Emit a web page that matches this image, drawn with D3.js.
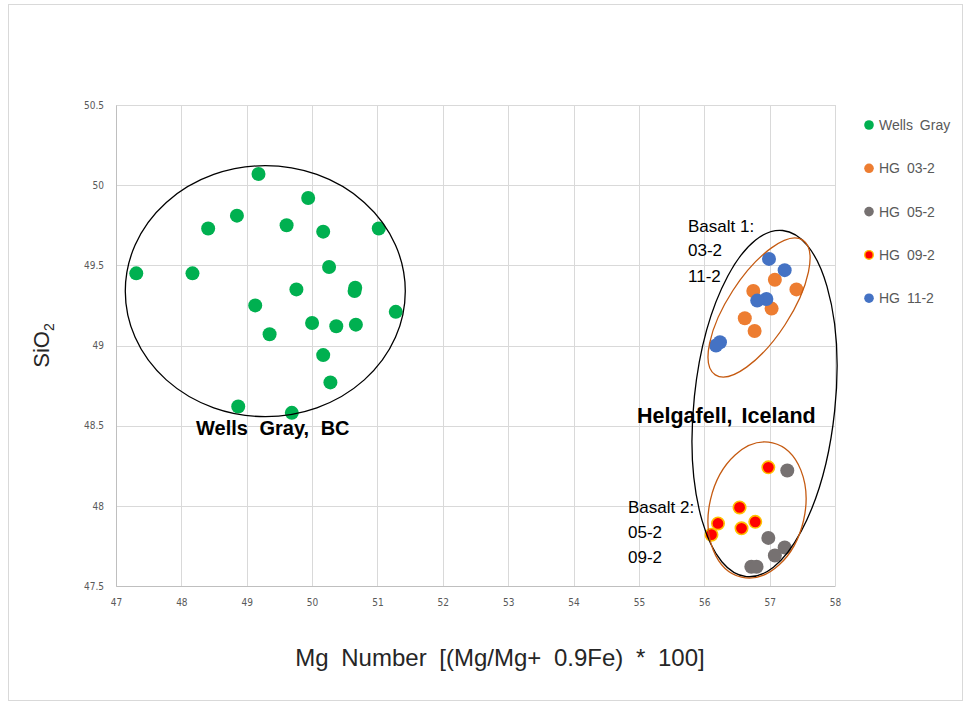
<!DOCTYPE html>
<html>
<head>
<meta charset="utf-8">
<script src="https://cdn.jsdelivr.net/npm/d3@7"></script>
<style>
  html, body { margin: 0; padding: 0; background: #fff; }
  svg { display: block; }
</style>
</head>
<body>
<svg id="chart" width="964" height="703"></svg>
<script>
// Axis ticks
const xTickValues = [47, 48, 49, 50, 51, 52, 53, 54, 55, 56, 57, 58];
const yTickValues = [47.5, 48, 48.5, 49, 49.5, 50, 50.5];

// Series: [Mg number, SiO2]
const wellsGray = [
  [49.18, 50.07], [49.94, 49.92], [48.85, 49.81], [48.41, 49.73], [49.61, 49.75],
  [50.17, 49.71], [51.02, 49.73], [47.31, 49.45], [48.17, 49.45], [50.26, 49.49],
  [49.76, 49.35], [50.66, 49.36], [50.65, 49.34], [49.13, 49.25], [51.28, 49.21],
  [50.00, 49.14], [50.37, 49.12], [50.67, 49.13], [49.35, 49.07], [50.17, 48.94],
  [50.28, 48.77], [48.87, 48.62], [49.69, 48.58]
];
const hg03 = [
  [57.08, 49.41], [56.75, 49.34], [57.41, 49.35], [57.03, 49.23], [56.62, 49.17], [56.77, 49.09]
];
const hg05 = [
  [57.27, 48.22], [56.98, 47.80], [57.23, 47.74], [57.08, 47.69], [56.72, 47.62], [56.80, 47.62]
];
const hg09 = [
  [56.98, 48.24], [56.54, 47.99], [56.21, 47.89], [56.78, 47.90], [56.57, 47.86], [56.11, 47.82]
];
const hg11 = [
  [56.99, 49.54], [57.23, 49.47], [56.95, 49.29], [56.81, 49.28], [56.24, 49.02], [56.18, 49.00]
];
const seriesNames = ["Wells Gray", "HG 03-2", "HG 05-2", "HG 09-2", "HG 11-2"];

const svg = d3.select("#chart");
const W = 964, H = 703;
const margin = { left: 116, right: 129, top: 105, bottom: 117 };

const x = d3.scaleLinear().domain([47, 58]).range([margin.left, W - margin.right]);
const y = d3.scaleLinear().domain([47.5, 50.5]).range([H - margin.bottom, margin.top]);

// chart area frame
svg.append("rect")
  .attr("x", 8.5).attr("y", 4.5).attr("width", 954).attr("height", 696)
  .attr("fill", "#fff").attr("stroke", "#d9d9d9").attr("stroke-width", 1);

// gridlines
const grid = svg.append("g");
grid.selectAll("line.v").data(xTickValues).join("line")
  .attr("x1", d => Math.round(x(d)) + 0.5).attr("x2", d => Math.round(x(d)) + 0.5)
  .attr("y1", y(50.5)).attr("y2", y(47.5))
  .attr("stroke", "#d9d9d9").attr("stroke-width", 1);
grid.selectAll("line.h").data(yTickValues).join("line")
  .attr("y1", d => Math.round(y(d)) + 0.5).attr("y2", d => Math.round(y(d)) + 0.5)
  .attr("x1", x(47)).attr("x2", x(58))
  .attr("stroke", "#d9d9d9").attr("stroke-width", 1);

// axes
const fmt = d => String(d);
const xAxis = svg.append("g")
  .attr("transform", `translate(0,${y(47.5)})`)
  .call(d3.axisBottom(x).tickValues(xTickValues).tickFormat(fmt).tickSize(0).tickPadding(13));
const yAxis = svg.append("g")
  .attr("transform", `translate(${x(47)},0)`)
  .call(d3.axisLeft(y).tickValues(yTickValues).tickFormat(fmt).tickSize(0).tickPadding(12));
[xAxis, yAxis].forEach(g => {
  g.select(".domain").attr("stroke", "#bfbfbf");
  g.selectAll("text")
    .attr("fill", "#595959")
    .style("font-family", "'DejaVu Sans Condensed', 'DejaVu Sans', sans-serif")
    .style("font-size", "10px");
});

// markers
const styles = [
  { data: wellsGray, fill: "#00b050", stroke: "none", sw: 0 },
  { data: hg03, fill: "#ed7d31", stroke: "none", sw: 0 },
  { data: hg05, fill: "#767171", stroke: "none", sw: 0 },
  { data: hg09, fill: "#ff0000", stroke: "#ffc000", sw: 1.6 },
  { data: hg11, fill: "#4472c4", stroke: "none", sw: 0 }
];
styles.forEach(s => {
  svg.append("g").selectAll("circle").data(s.data).join("circle")
    .attr("cx", d => x(d[0])).attr("cy", d => y(d[1]))
    .attr("r", s.sw ? 6.2 : 7)
    .attr("fill", s.fill)
    .attr("stroke", s.stroke).attr("stroke-width", s.sw);
});

// grouping ellipses: center in data units, radii in px, rotation in degrees
const ellipses = [
  { cx: 49.284, cy: 49.339, rx: 140, ry: 125.5, rot: 0, color: "#000" },
  { cx: 56.922, cy: 48.638, rx: 70.5, ry: 174, rot: 6, color: "#000" },
  { cx: 56.838, cy: 49.237, rx: 31.2, ry: 80.3, rot: 33, color: "#c55a11" },
  { cx: 56.807, cy: 47.974, rx: 47.7, ry: 68.9, rot: 13, color: "#c55a11" }
];
svg.append("g").selectAll("ellipse").data(ellipses).join("ellipse")
  .attr("transform", d => `translate(${x(d.cx)},${y(d.cy)}) rotate(${d.rot})`)
  .attr("rx", d => d.rx).attr("ry", d => d.ry)
  .attr("fill", "none").attr("stroke", d => d.color).attr("stroke-width", 1.3);

// annotations
const ann = svg.append("g")
  .style("font-family", "'Liberation Sans', Arial, sans-serif").attr("fill", "#000");
ann.append("text").attr("x", 196).attr("y", 435)
  .style("font-size", "20px").style("font-weight", "bold").style("word-spacing", "6px")
  .text("Wells Gray, BC");
ann.append("text").attr("x", 637).attr("y", 423)
  .style("font-size", "21.5px").style("font-weight", "bold").style("word-spacing", "3px")
  .text("Helgafell, Iceland");
[["Basalt 1:", 232], ["03-2", 256], ["11-2", 282]].forEach(([t, yy]) =>
  ann.append("text").attr("x", 688).attr("y", yy).style("font-size", "17px").text(t));
[["Basalt 2:", 513], ["05-2", 538], ["09-2", 563]].forEach(([t, yy]) =>
  ann.append("text").attr("x", 628).attr("y", yy).style("font-size", "17px").text(t));

// axis titles
svg.append("text")
  .attr("x", 500).attr("y", 666)
  .attr("text-anchor", "middle")
  .style("font-family", "'Liberation Sans', Arial, sans-serif")
  .style("font-size", "24px").style("word-spacing", "6px").attr("fill", "#262626")
  .text("Mg Number [(Mg/Mg+ 0.9Fe) * 100]");

const yt = svg.append("text")
  .attr("transform", `translate(49,${(y(47.5) + y(50.5)) / 2}) rotate(-90)`)
  .attr("text-anchor", "middle")
  .style("font-family", "'Liberation Sans', Arial, sans-serif")
  .style("font-size", "22px").attr("fill", "#262626");
yt.append("tspan").text("SiO");
yt.append("tspan").attr("dy", 5).style("font-size", "14px").text("2");

// legend
const legend = svg.append("g").attr("transform", "translate(869,125)");
seriesNames.forEach((name, i) => {
  const s = styles[i];
  const g = legend.append("g").attr("transform", `translate(0,${i * 43.3})`);
  g.append("circle").attr("r", s.sw ? 4.3 : 4.8)
    .attr("fill", s.fill).attr("stroke", s.stroke).attr("stroke-width", s.sw ? 1.4 : 0);
  g.append("text").attr("x", 10).attr("y", 5)
    .style("font-family", "'Liberation Sans', Arial, sans-serif")
    .style("font-size", "14px").style("word-spacing", "3px").attr("fill", "#595959").text(name);
});
</script>
</body>
</html>
